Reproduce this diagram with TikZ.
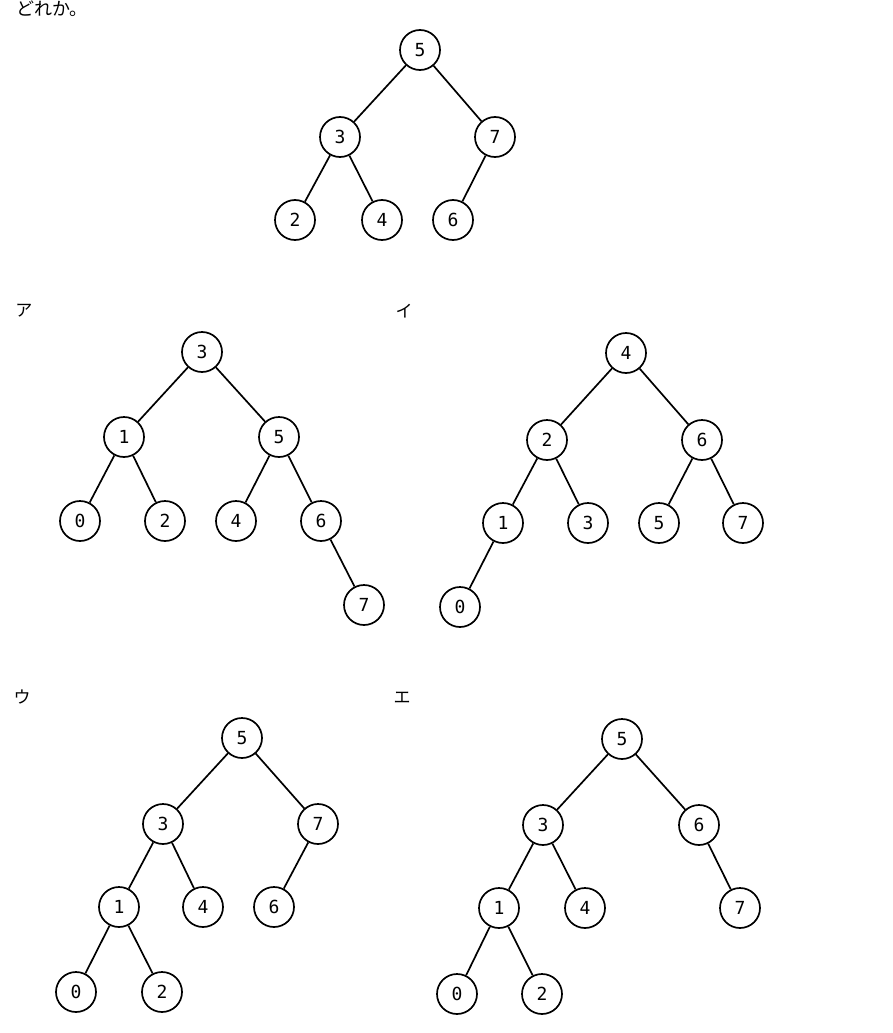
\documentclass[tikz,border=0pt]{standalone}
\usepackage{fontspec}
\setmonofont{DejaVu Sans Mono}
\newfontfamily\jpfont{Noto Sans CJK JP}
\begin{document}
\begin{tikzpicture}[x=1pt,y=-1pt,
  tn/.style={circle,draw,line width=1.7pt,minimum size=40pt,inner sep=0pt,font=\ttfamily\fontsize{18}{18}\selectfont},
  edge/.style={line width=1.7pt},
  lab/.style={font=\jpfont\fontsize{17}{17}\selectfont,inner sep=0pt}]
\useasboundingbox (0,0) rectangle (892,1033);
\node[font=\jpfont\fontsize{18}{18}\selectfont,anchor=west,inner sep=0pt] (q) at (16,9) {どれか。};
% top tree
\node[tn] (t5) at (420,50) {5};
\node[tn] (t3) at (340,137) {3};
\node[tn] (t7) at (495,137) {7};
\node[tn] (t2) at (295,220) {2};
\node[tn] (t4) at (382,220) {4};
\node[tn] (t6) at (453,220) {6};
\draw[edge] (t5)--(t3) (t5)--(t7) (t3)--(t2) (t3)--(t4) (t7)--(t6);
% A
\node[lab] (la) at (24,311) {ア};
\node[tn] (a3) at (202,352) {3};
\node[tn] (a1) at (124,437) {1};
\node[tn] (a5) at (279,437) {5};
\node[tn] (a0) at (80,521) {0};
\node[tn] (a2) at (165,521) {2};
\node[tn] (a4) at (236,521) {4};
\node[tn] (a6) at (321,521) {6};
\node[tn] (a7) at (364,605) {7};
\draw[edge] (a3)--(a1) (a3)--(a5) (a1)--(a0) (a1)--(a2) (a5)--(a4) (a5)--(a6) (a6)--(a7);
% I
\node[lab] (li) at (404,311) {イ};
\node[tn] (i4) at (626,353) {4};
\node[tn] (i2) at (547,440) {2};
\node[tn] (i6) at (702,440) {6};
\node[tn] (i1) at (503,523) {1};
\node[tn] (i3) at (588,523) {3};
\node[tn] (i5) at (659,523) {5};
\node[tn] (i7) at (743,523) {7};
\node[tn] (i0) at (460,607) {0};
\draw[edge] (i4)--(i2) (i4)--(i6) (i2)--(i1) (i2)--(i3) (i6)--(i5) (i6)--(i7) (i1)--(i0);
% U
\node[lab] (lu) at (22,697) {ウ};
\node[tn] (u5) at (242,738) {5};
\node[tn] (u3) at (163,824) {3};
\node[tn] (u7) at (318,824) {7};
\node[tn] (u1) at (119,907) {1};
\node[tn] (u4) at (203,907) {4};
\node[tn] (u6) at (274,907) {6};
\node[tn] (u0) at (76,992) {0};
\node[tn] (u2) at (162,992) {2};
\draw[edge] (u5)--(u3) (u5)--(u7) (u3)--(u1) (u3)--(u4) (u7)--(u6) (u1)--(u0) (u1)--(u2);
% E
\node[lab] (le) at (402,698) {エ};
\node[tn] (e5) at (622,739) {5};
\node[tn] (e3) at (543,825) {3};
\node[tn] (e6) at (699,825) {6};
\node[tn] (e1) at (499,908) {1};
\node[tn] (e4) at (585,908) {4};
\node[tn] (e7) at (740,908) {7};
\node[tn] (e0) at (457,994) {0};
\node[tn] (e2) at (542,994) {2};
\draw[edge] (e5)--(e3) (e5)--(e6) (e3)--(e1) (e3)--(e4) (e6)--(e7) (e1)--(e0) (e1)--(e2);
\end{tikzpicture}
\end{document}
